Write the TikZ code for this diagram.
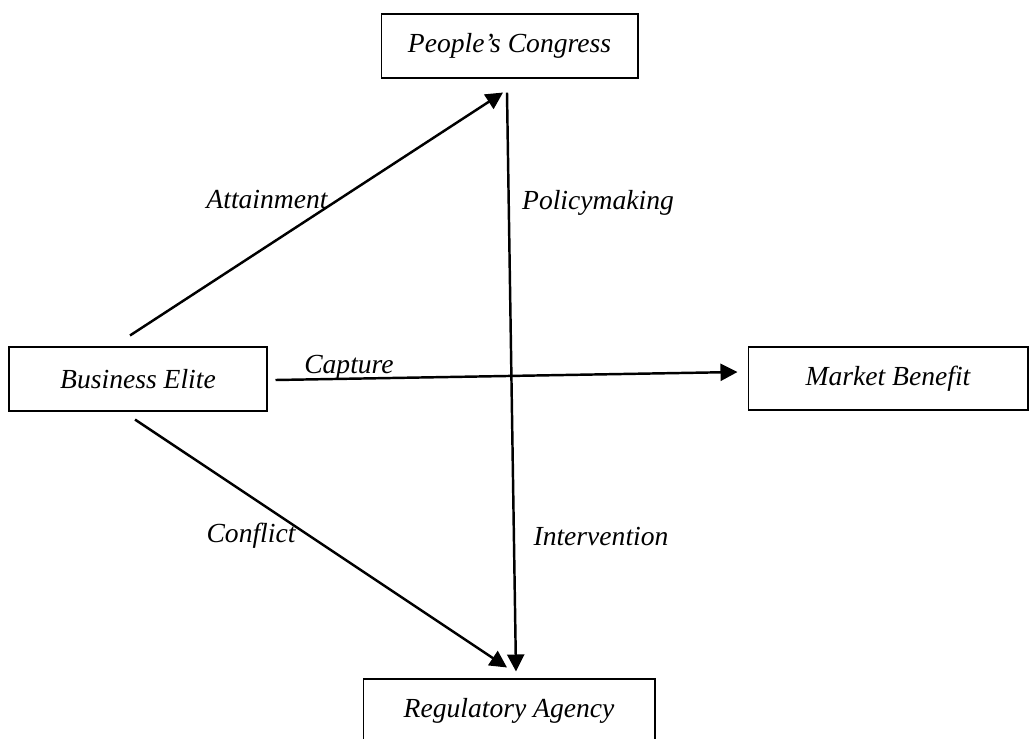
\documentclass[tikz,border=0pt]{standalone}
\usepackage{fontspec}
\setmainfont{Liberation Serif}
\usetikzlibrary{arrows.meta, calc}
\tikzset{
    my-box/.style={
        draw, line width=0.6pt, inner sep=0pt, font=\fontsize{15.7}{18}\selectfont\itshape
    },
    my-label/.style={
        inner sep=0pt, font=\fontsize{15.7}{18}\selectfont\itshape
    },
    my-arrow/.style={
        line width=1.4pt, -{Triangle[length=0.34cm, width=0.34cm]}
    },
}
\begin{document}
\begin{tikzpicture}[x=0.02cm, y=-0.02cm]
        \useasboundingbox (0,0) rectangle (1029,738);

        % BOXES
        \node[my-box, minimum width=5.14cm, minimum height=1.28cm] (PC) at (509.5,46)  {People's Congress};
        \node[my-box, minimum width=5.16cm, minimum height=1.28cm] (BE) at (138,379)   {Business Elite};
        \node[my-box, minimum width=5.6cm,  minimum height=1.26cm] (MB) at (888,378.5) {Market Benefit};
        \node[my-box, minimum width=5.84cm, minimum height=1.28cm] (RA) at (509,711)   {Regulatory Agency};

        % ARROW END POINTS
        \coordinate[] (ATTIN)  at ($(BE.north) + (-8,-11)$);
        \coordinate[] (ATTOUT) at ($(PC.south) + (-6.5,14)$);
        \coordinate[] (POLIN)  at ($(PC.south) + (-2.5,14)$);
        \coordinate[] (POLOUT) at ($(RA.north) + (7,-7)$);
        \coordinate[] (CAPIN)  at ($(BE.east)  + (8,1)$);
        \coordinate[] (CAPOUT) at ($(MB.west)  + (-10,-6.5)$);
        \coordinate[] (CONIN)  at ($(BE.south) + (-3,8)$);
        \coordinate[] (CONOUT) at ($(RA.north) + (-2,-11)$);

        % ARROWS
        \draw[my-arrow] (ATTIN) -- (ATTOUT);
        \draw[my-arrow] (POLIN) -- (POLOUT);
        \draw[my-arrow] (CAPIN) -- (CAPOUT);
        \draw[my-arrow] (CONIN) -- (CONOUT);

        % LABELS
        \node[my-label] (ATT) at (267,200) {Attainment};
        \node[my-label] (POL) at (598,203) {Policymaking};
        \node[my-label] (CAP) at (349,367) {Capture};
        \node[my-label] (CON) at (251,536) {Conflict};
        \node[my-label] (INT) at (601,536) {Intervention};

    \end{tikzpicture}
\end{document}
